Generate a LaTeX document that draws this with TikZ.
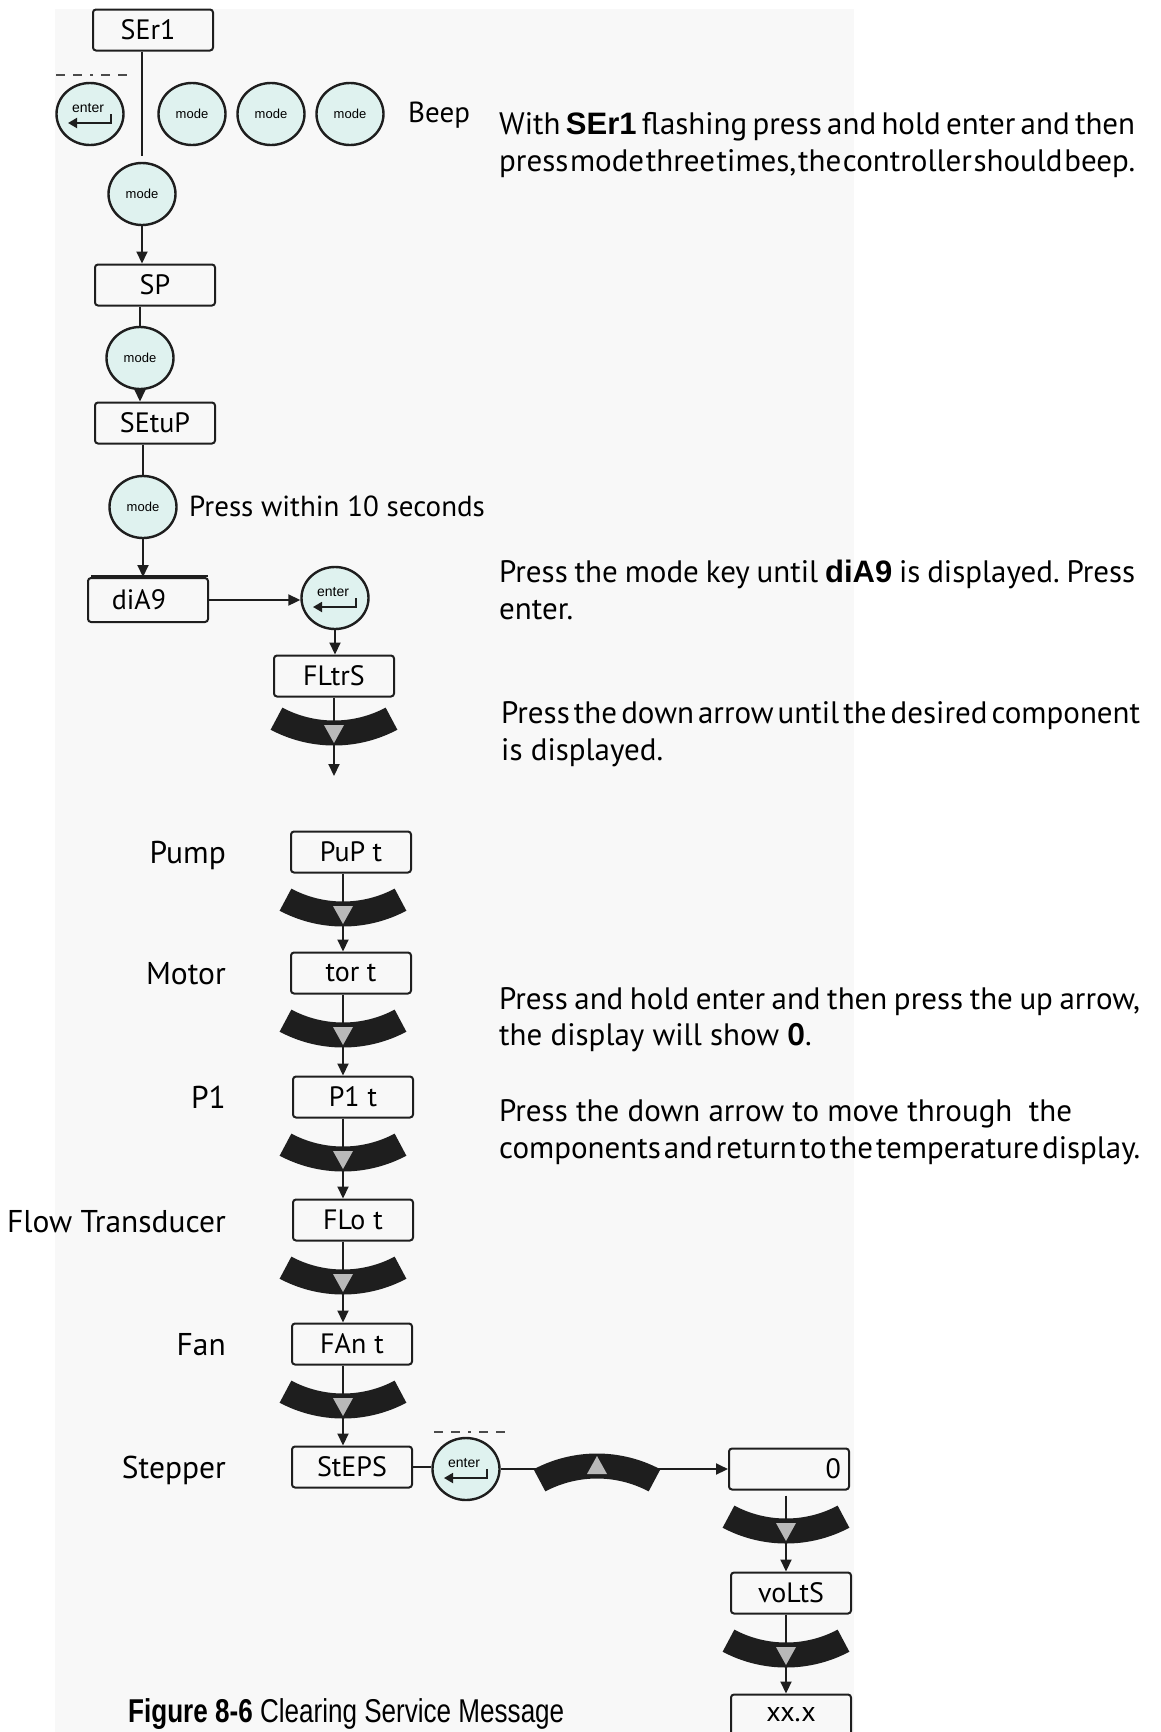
\documentclass[tikz,border=0pt]{standalone}
\usepackage{fontspec}
\setmainfont{PT Sans}
\newfontfamily\keyfont{Liberation Sans}
\newfontfamily\capfont[FakeStretch=0.79]{Liberation Sans}
\usetikzlibrary{arrows.meta,shapes.geometric,calc}
\definecolor{bggray}{HTML}{F8F8F8}
\definecolor{keyfill}{HTML}{DFF2EF}
\definecolor{ink}{HTML}{1E1E1E}
\definecolor{trigray}{HTML}{B9B9B9}
\newcommand\fitline[2]{\makebox[#1][s]{\frenchspacing\spaceskip=0.5pt plus 40pt\relax#2}}
\tikzset{box/.style={draw=ink,line width=2pt,rounded corners=3pt,minimum width=120pt,minimum height=41pt,inner sep=0pt,font=\fontsize{28}{30}\selectfont},
keybtn/.style={ellipse,draw=ink,line width=2.4pt,fill=keyfill,minimum width=67pt,minimum height=62pt,inner sep=0pt,font=\keyfont\fontsize{13}{14}\selectfont},
arr/.style={-{Triangle[length=12pt,width=11pt]},line width=2pt,draw=ink},
ln/.style={line width=2pt,draw=ink},
lbl/.style={anchor=base east,inner sep=0pt,font=\fontsize{31.5}{33}\selectfont},
txt/.style={anchor=base west,inner sep=0pt,font=\fontsize{31}{33}\selectfont},
dashdot/.style={line width=2pt,draw=ink!80,dash pattern=on 9pt off 8pt on 9pt off 8pt on 3pt off 8pt on 9pt off 8pt on 9pt},
dband/.pic={\fill[ink](63.38,-3.3)arc[start angle=62,end angle=118,radius=135]--(-51.64,-25.38)arc[start angle=118,end angle=62,radius=110]--cycle;
\fill[trigray](-10,-8)--(10,-8)--(0,10)--cycle;}}
\begin{document}
\begin{tikzpicture}[x=1pt,y=-1pt]
\useasboundingbox(0,0)rectangle(1160,1732);
\fill[bggray](55,9)rectangle(854,1732);
% entering the service menu
\node[box](ser)at(153,30){SEr1\hspace*{10pt}};
\node[keybtn](e1)at(90,114){};
\node[keybtn](k1)at(192,114){mode};
\node[keybtn](k2)at(271,114){mode};
\node[keybtn](k3)at(350,114){mode};
\node[txt,font=\fontsize{29}{30}\selectfont](beep)at(408,122){Beep};
\coordinate(d1a)at(56,75);\coordinate(d1b)at(128,75);
\draw[dashdot](d1a)--(d1b);
\node[keybtn](m0)at(142,194){mode};
\node[box](sp)at(155,285){SP};
\node[keybtn](m1)at(140,358){mode};
\node[box](setup)at(155,423){SEtuP};
\node[keybtn](m2)at(143,507){mode};
\node[txt,font=\fontsize{29}{30}\selectfont](within)at(189,516){Press within 10 seconds};
\node[box,minimum height=44pt](dia)at(148,600){diA9\hspace*{18pt}};
\draw[ln]($(dia.north west)+(4,-1.5)$)--($(dia.north east)+(-1,-1.5)$);
\node[keybtn](e2)at(335,598){};
\node[box](fltr)at(334,676){FLtrS};
\coordinate(fend)at(334,776);
\draw[ln,shorten >=6pt](ser.south -| m0)--(m0.north);
\draw[arr](m0.south)--(m0.south |- sp.north);
\draw[ln](sp.south -| m1)--(m1.north);
\draw[arr](m1.south)--(m1.south |- setup.north);
\draw[ln](setup.south -| m2)--(m2.north);
\draw[arr](m2.south)--(m2.south |- dia.north);
\draw[arr](dia.east)--(dia.east -| e2.west);
\draw[arr](e2.south)--(e2.south |- fltr.north);
\draw[arr](fltr.south)--(fend);
\pic at(334,733){dband};
% component list
\coordinate(colA)at(343,0);
\node[box](pup)at(351,852){PuP t};
\node[box](tor)at(351,973){tor t};
\node[box](p1)at(353,1097){P1\hspace{8pt}t};
\node[box](flo)at(353,1220){FLo\hspace{8pt}t};
\node[box](fan)at(352,1344){FAn\hspace{8pt}t};
\node[box](steps)at(352,1467){StEPS};
\node[lbl](lpump)at(226,863){Pump};
\node[lbl](lmotor)at(226,984){Motor};
\node[lbl](lp1)at(226,1108){P1};
\node[lbl](lflow)at(226,1232){Flow Transducer};
\node[lbl](lfan)at(226,1355){Fan};
\node[lbl](lstep)at(226,1478){Stepper};
\foreach\a/\b in{pup/tor,tor/p1,p1/flo,flo/fan,fan/steps}\draw[arr](\a.south -| colA)--(\b.north -| colA);
\foreach\y in{914,1035,1159,1282,1406}\pic at(343,\y){dband};
% clearing
\node[keybtn](e3)at(466,1469){};
\coordinate(d2a)at(434,1432);\coordinate(d2b)at(506,1432);
\draw[dashdot](d2a)--(d2b);
\node[box,text width=104pt,align=right](zero)at(789,1469){0};
\coordinate(colB)at(786,0);
\node[box](volts)at(791,1593){voLtS};
\node[box](xx)at(791,1715){xx.x};
\draw[ln](steps.east)--(steps.east -| e3.west);
\draw[arr](e3.east)--(e3.east -| zero.west);
\pic[rotate=180]at(597,1466){dband};
\draw[arr,shorten <=5pt](zero.south -| colB)--(volts.north -| colB);
\draw[arr](volts.south -| colB)--(xx.north -| colB);
\foreach\y in{1531,1655}\pic at(786,\y){dband};
% enter glyphs
\foreach\k in{e1,e2,e3}{
\node[inner sep=0pt,font=\keyfont\fontsize{14}{15}\selectfont](\k-t)at($(\k)+(-2,-6)$){enter};
\draw[line width=1.8pt,draw=ink,-{Triangle[length=9pt,width=10pt]}]($(\k)+(21,0)$)--++(0,9)--++(-43,0);}
% notes
\node[txt](n1a)at(499,134){\fitline{636pt}{With {\keyfont\bfseries SEr1} flashing press and hold enter and then}};
\node[txt](n1b)at(499,171){\fitline{636pt}{press mode three times, the controller should beep.}};
\node[txt](n2a)at(499,582){\fitline{636pt}{Press the mode key until {\keyfont\bfseries diA9} is displayed. Press}};
\node[txt](n2b)at(499,619){enter.};
\node[txt](n3a)at(501,723){\fitline{639pt}{Press the down arrow until the desired component}};
\node[txt](n3b)at(501,760){is displayed.};
\node[txt](n4a)at(499,1009){\fitline{641pt}{Press and hold enter and then press the up arrow,}};
\node[txt](n4b)at(499,1045){the display will show {\bfseries 0}.};
\node[txt](n5a)at(499,1121){Press the down arrow to move through\ \ the};
\node[txt](n5b)at(499,1158){\fitline{641pt}{components and return to the temperature display.}};
\node[txt,font=\capfont\fontsize{33}{35}\selectfont](cap)at(128,1722){\textbf{Figure 8-6} Clearing Service Message};
\end{tikzpicture}
\end{document}
